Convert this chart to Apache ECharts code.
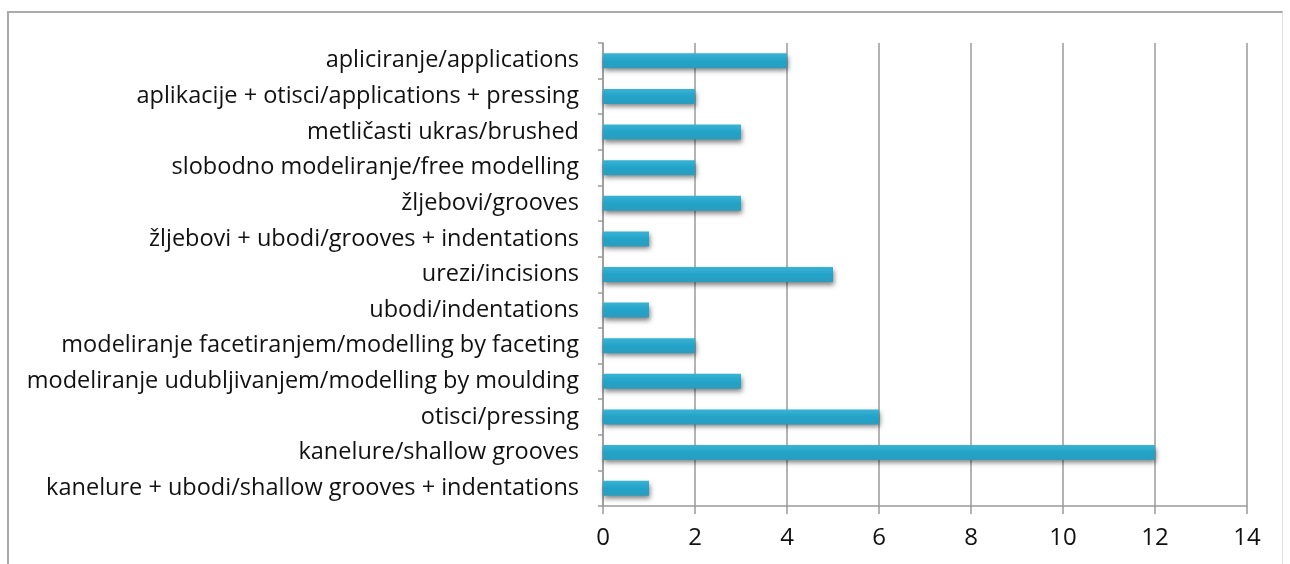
<!DOCTYPE html>
<html><head><meta charset="utf-8">
<script src="https://cdn.jsdelivr.net/npm/echarts@6/dist/echarts.min.js"></script>
<style>html,body{margin:0;padding:0;background:#fff}#c{width:1290px;height:564px}
#f{position:absolute;left:7px;top:11px;width:1276px;height:560px;border-left:2px solid #aaa;border-top:2px solid #aaa;border-right:1px solid #e4e4e4;box-sizing:border-box;pointer-events:none}</style>
</head><body><div id="c"></div><div id="f"></div>
<script>
const categories = [
  "apliciranje/applications",
  "aplikacije + otisci/applications + pressing",
  "metličasti ukras/brushed",
  "slobodno modeliranje/free modelling",
  "žljebovi/grooves",
  "žljebovi + ubodi/grooves + indentations",
  "urezi/incisions",
  "ubodi/indentations",
  "modeliranje facetiranjem/modelling by faceting",
  "modeliranje udubljivanjem/modelling by moulding",
  "otisci/pressing",
  "kanelure/shallow grooves",
  "kanelure + ubodi/shallow grooves + indentations"
];
const values = [4, 2, 3, 2, 3, 1, 5, 1, 2, 3, 6, 12, 1];
const xTicks = [0, 2, 4, 6, 8, 10, 12, 14];

const chart = echarts.init(document.getElementById('c'));
chart.setOption({
  animation: false,
  grid: {left: 603, right: 43, top: 43, bottom: 58, containLabel: false},
  xAxis: {
    type: 'value', min: xTicks[0], max: xTicks[xTicks.length-1], interval: 2,
    axisLine: {show: true, lineStyle: {color: '#9a9a9a', width: 1.5}},
    axisTick: {show: true, length: 8, lineStyle: {color: '#9a9a9a', width: 1.5}},
    axisLabel: {fontFamily: 'Open Sans', fontSize: 24, color: '#111', margin: 20},
    splitLine: {show: true, lineStyle: {color: '#9a9a9a', width: 1.5}}
  },
  yAxis: {
    type: 'category', data: categories, inverse: true,
    axisLine: {show: true, lineStyle: {color: '#9a9a9a', width: 1.5}},
    axisTick: {show: true, length: 5, lineStyle: {color: '#9a9a9a', width: 1.5}},
    axisLabel: {fontFamily: 'Open Sans', fontSize: 23.5, color: '#111', margin: 24}
  },
  series: [{
    type: 'bar', data: values, barWidth: 15,
    itemStyle: {
      color: new echarts.graphic.LinearGradient(0,0,0,1,[
        {offset:0,color:'#3ab3d4'},{offset:0.5,color:'#22a3c8'},{offset:1,color:'#2a9dbf'}]),
      shadowColor: 'rgba(0,0,0,0.5)', shadowBlur: 5, shadowOffsetY: 3, shadowOffsetX: 1
    }
  }]
});
</script></body></html>
